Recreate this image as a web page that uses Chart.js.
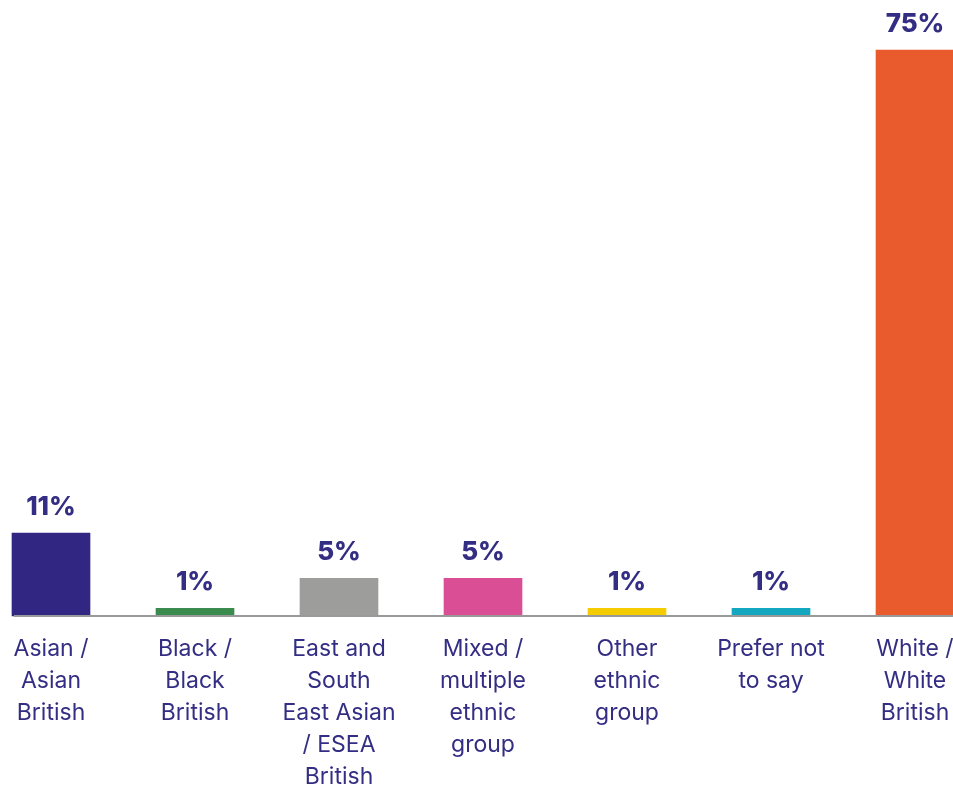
<!DOCTYPE html>
<html>
<head>
<meta charset="utf-8">
<script src="https://cdn.jsdelivr.net/npm/chart.js@4/dist/chart.umd.min.js"></script>
<style>
  html, body { margin: 0; padding: 0; background: #fff; }
  #wrap { width: 953px; height: 789px; position: relative; }
</style>
</head>
<body>
<div id="wrap"><canvas id="myChart"></canvas></div>
<script>
const labels = [
    ['Asian /', 'Asian', 'British'],
    ['Black /', 'Black', 'British'],
    ['East and', 'South', 'East Asian', '/ ESEA', 'British'],
    ['Mixed /', 'multiple', 'ethnic', 'group'],
    ['Other', 'ethnic', 'group'],
    ['Prefer not', 'to say'],
    ['White /', 'White', 'British']
];

const values = [11, 1, 5, 5, 1, 1, 75];

const barColours = ['#312783', '#3b8a4e', '#9d9d9c', '#d94e94', '#f5cc00', '#13a8c0', '#e95a2c'];

const navy = '#332d83';

// percentage above each bar, plus the grey baseline drawn over the bar feet
const valueLabels = {
    id: 'valueLabels',
    afterDatasetsDraw(chart) {
        const ctx = chart.ctx;
        const meta = chart.getDatasetMeta(0);
        const yZero = chart.scales.y.getPixelForValue(0);

        ctx.save();
        ctx.strokeStyle = '#999999';
        ctx.lineWidth = 2;
        ctx.beginPath();
        ctx.moveTo(14, yZero);
        ctx.lineTo(chart.width, yZero);
        ctx.stroke();

        ctx.fillStyle = navy;
        ctx.font = '800 26px Inter';
        ctx.textAlign = 'center';
        ctx.textBaseline = 'alphabetic';
        meta.data.forEach((bar, i) => {
            ctx.fillText(values[i] + '%', bar.x, bar.y - 18);
        });
        ctx.restore();
    }
};

const data = {
    labels: labels,
    datasets: [
        {
            data: values,
            backgroundColor: barColours,
            barThickness: 78,
            borderWidth: 0,
            clip: false
        }
    ]
};

const config = {
    type: 'bar',
    data: data,
    options: {
        responsive: true,
        maintainAspectRatio: false,
        animation: false,
        layout: {
            padding: { top: 50, left: 51, right: 38, bottom: -21 }
        },
        scales: {
            x: {
                offset: false,
                grid: { display: false, drawTicks: false },
                border: { display: false },
                // bars sit on the outer labels, so keep the area set by layout padding
                afterFit(scale) {
                    scale.paddingLeft = 0;
                    scale.paddingRight = 0;
                },
                ticks: {
                    color: navy,
                    font: { family: 'Inter', size: 23, lineHeight: '32px' },
                    padding: 17,
                    maxRotation: 0,
                    autoSkip: false
                }
            },
            y: {
                display: false,
                min: 0,
                max: 75
            }
        },
        plugins: {
            legend: { display: false },
            tooltip: { enabled: false }
        }
    },
    plugins: [valueLabels]
};

const myChart = new Chart(
    document.getElementById('myChart'),
    config
);
</script>
</body>
</html>
